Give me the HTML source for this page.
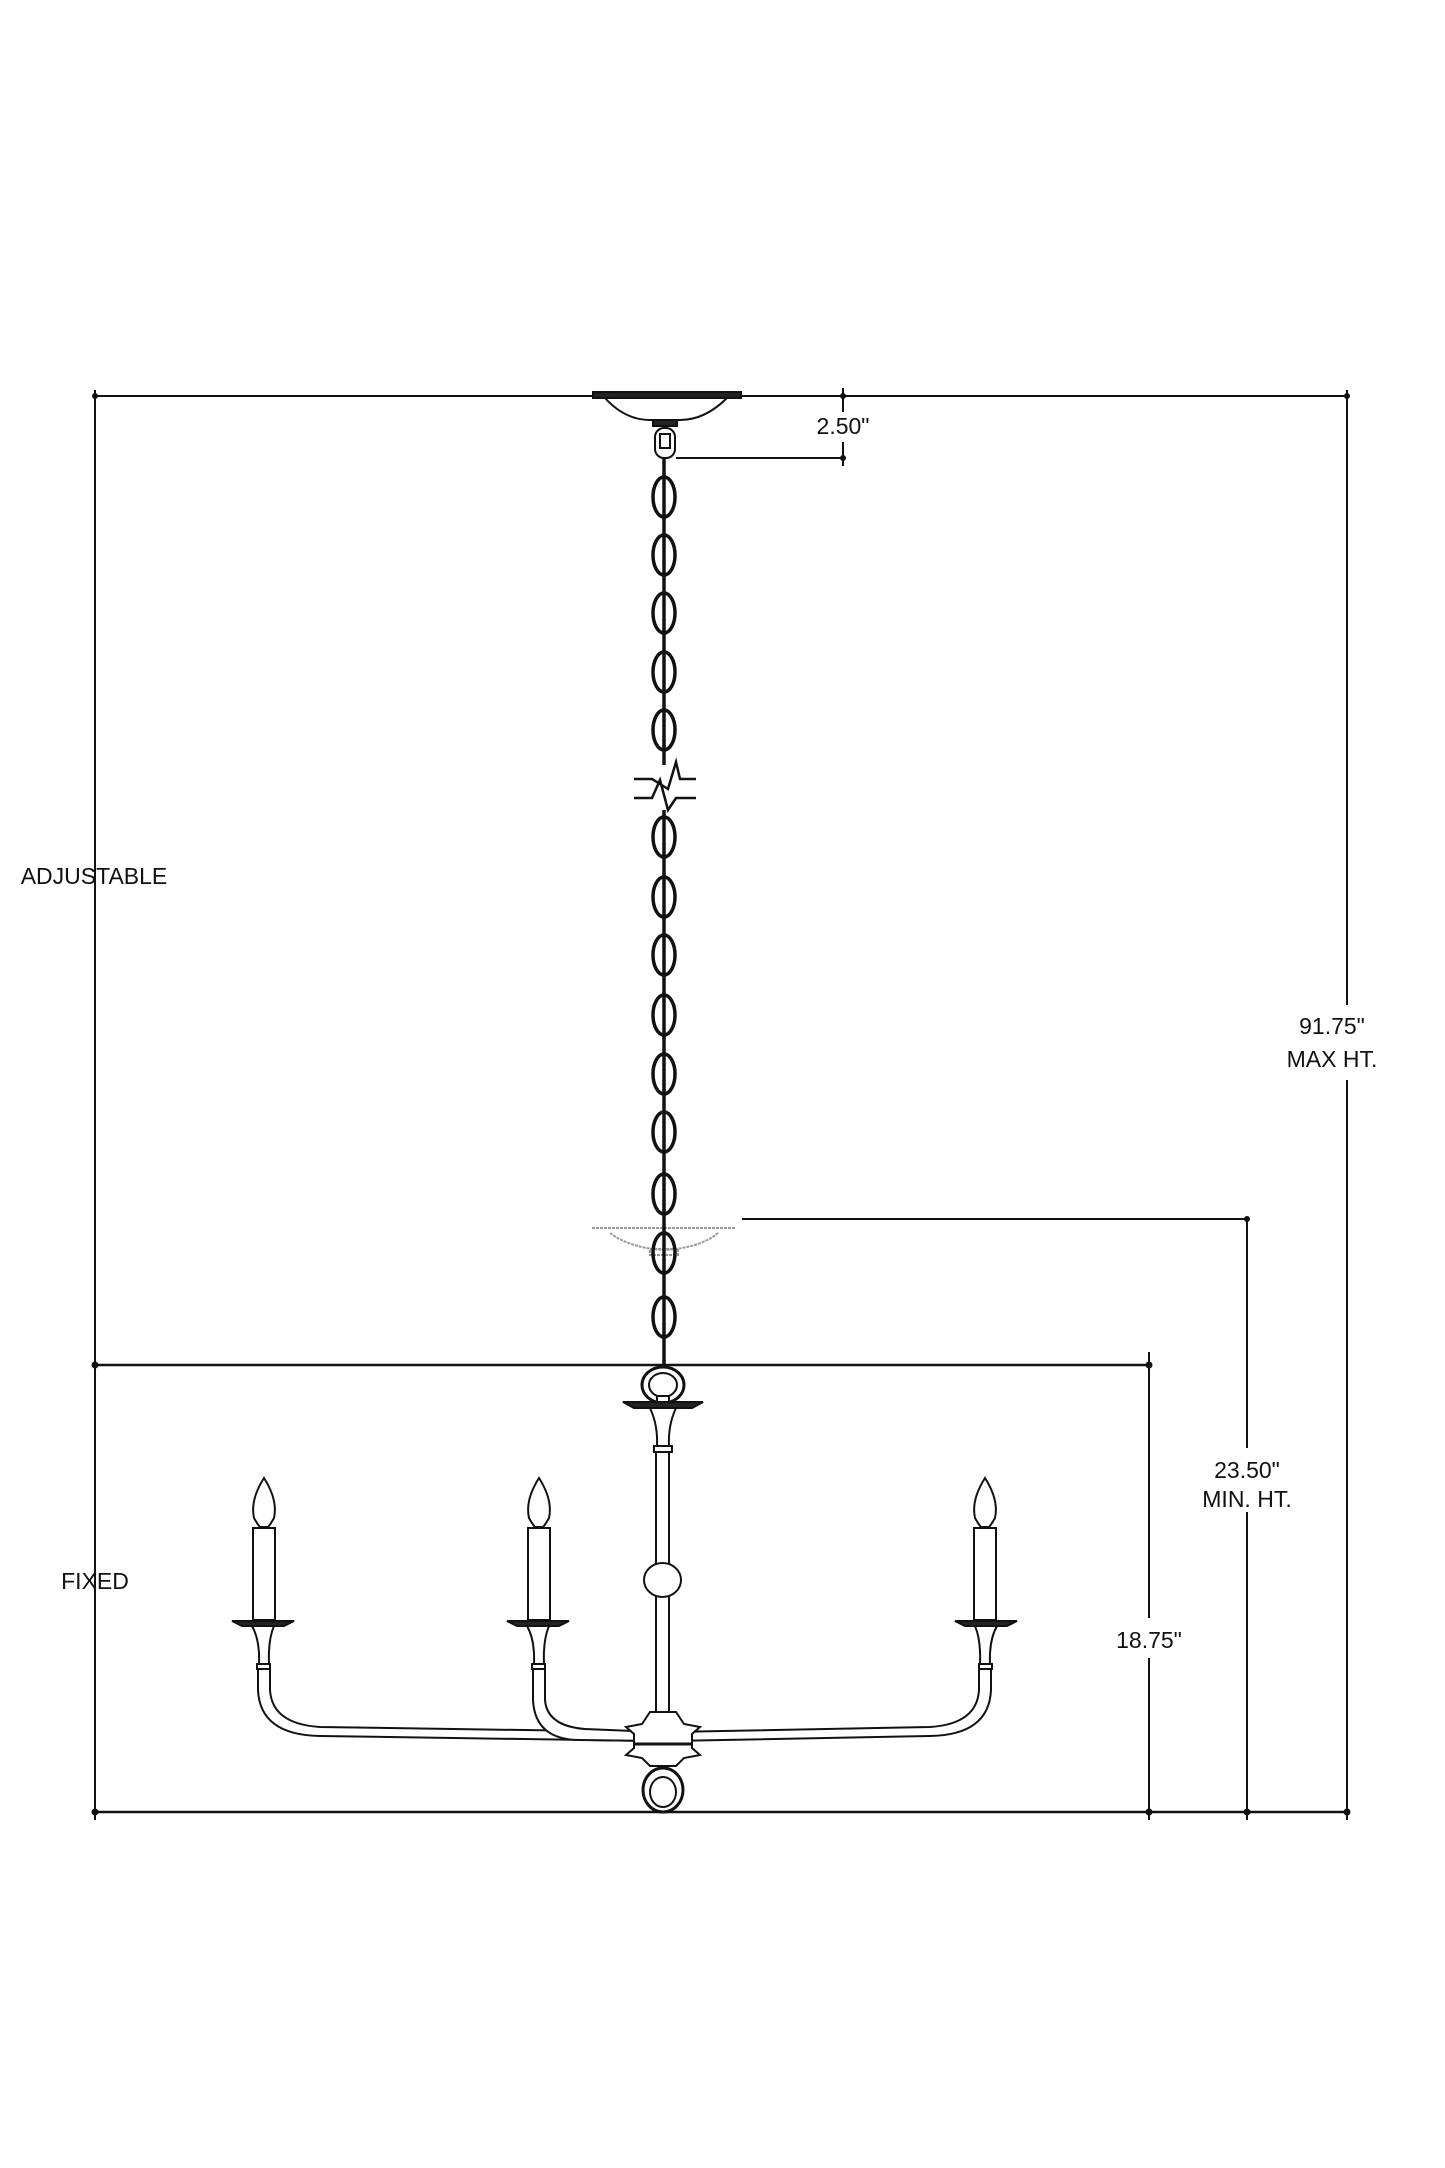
<!DOCTYPE html>
<html><head><meta charset="utf-8"><style>
html,body{margin:0;padding:0;background:#fff;}
svg{display:block}
text{font-family:"Liberation Sans",sans-serif;font-size:23px;fill:#111;}
</style></head><body>
<svg width="1445" height="2168" viewBox="0 0 1445 2168" xmlns="http://www.w3.org/2000/svg">
<g stroke="#111" fill="none" stroke-width="2">
<line x1="95" y1="396" x2="593" y2="396"/>
<line x1="741" y1="396" x2="1347" y2="396"/>
<line x1="95" y1="390" x2="95" y2="1820"/>
<line x1="1347" y1="390" x2="1347" y2="1005"/>
<line x1="1347" y1="1080" x2="1347" y2="1820"/>
<line x1="843" y1="388" x2="843" y2="412"/>
<line x1="843" y1="442" x2="843" y2="466"/>
<line x1="676" y1="458" x2="843" y2="458"/>
<line x1="95" y1="1365" x2="1149" y2="1365" stroke-width="2.5"/>
<line x1="95" y1="1812" x2="1347" y2="1812" stroke-width="2.5"/>
<line x1="1149" y1="1352" x2="1149" y2="1618"/>
<line x1="1149" y1="1658" x2="1149" y2="1820"/>
<line x1="742" y1="1219" x2="1247" y2="1219"/>
<line x1="1247" y1="1219" x2="1247" y2="1448"/>
<line x1="1247" y1="1512" x2="1247" y2="1820"/>
</g>
<g fill="#111">
<circle cx="95" cy="396" r="3"/><circle cx="843" cy="396" r="3"/><circle cx="1347" cy="396" r="3"/>
<circle cx="843" cy="458" r="3"/>
<circle cx="95" cy="1365" r="3.5"/><circle cx="1149" cy="1365" r="3.5"/>
<circle cx="1247" cy="1219" r="3"/>
<circle cx="95" cy="1812" r="3.5"/><circle cx="1149" cy="1812" r="3.5"/><circle cx="1247" cy="1812" r="3.5"/><circle cx="1347" cy="1812" r="3.5"/>
</g>
<g stroke="#111" fill="#fff" stroke-width="2">
<rect x="593" y="392" width="148" height="6" fill="#222"/>
<path d="M605 398 Q625 420 650 420 L680 420 Q705 420 727 398 Z"/>
<rect x="653" y="420" width="24" height="6" fill="#222"/>
<rect x="655" y="428" width="20" height="30" rx="9"/>
<rect x="660" y="434" width="10" height="14"/>
</g>
<g stroke="#999" fill="none" stroke-width="2" stroke-dasharray="3 1">
<line x1="592" y1="1228" x2="735" y2="1228"/>
<path d="M610 1233 Q630 1248 664 1250 Q700 1248 718 1233"/>
<rect x="650" y="1249" width="28" height="6"/>
</g>
<g stroke="#111" fill="none" stroke-width="3.5">
<line x1="664" y1="458" x2="664" y2="765"/>
<line x1="664" y1="810" x2="664" y2="1367"/>
<ellipse cx="664" cy="497" rx="11" ry="20"/>
<ellipse cx="664" cy="555" rx="11" ry="20"/>
<ellipse cx="664" cy="613" rx="11" ry="20"/>
<ellipse cx="664" cy="672" rx="11" ry="20"/>
<ellipse cx="664" cy="730" rx="11" ry="20"/>
<ellipse cx="664" cy="837" rx="11" ry="20"/>
<ellipse cx="664" cy="897" rx="11" ry="20"/>
<ellipse cx="664" cy="955" rx="11" ry="20"/>
<ellipse cx="664" cy="1015" rx="11" ry="20"/>
<ellipse cx="664" cy="1074" rx="11" ry="20"/>
<ellipse cx="664" cy="1132" rx="11" ry="20"/>
<ellipse cx="664" cy="1194" rx="11" ry="20"/>
<ellipse cx="664" cy="1253" rx="11" ry="20"/>
<ellipse cx="664" cy="1317" rx="11" ry="20"/>
</g>
<g stroke="#111" fill="none" stroke-width="2.5">
<path d="M634 779 L652 779 L668 789 L676 762 L680 779 L696 779"/>
<path d="M634 798 L652 798 L660 780 L668 810 L676 798 L696 798"/>
</g>
<g stroke="#111" fill="#fff" stroke-width="2">
<ellipse cx="663" cy="1385" rx="21" ry="18" stroke-width="3"/>
<ellipse cx="663" cy="1385" rx="14" ry="12"/>
<rect x="657" y="1396" width="12" height="6"/>
<path d="M623 1402 L703 1402 L692 1408 L634 1408 Z" fill="#222"/>
<path d="M650 1408 L676 1408 Q668 1425 669 1446 L657 1446 Q658 1425 650 1408 Z"/>
<rect x="654" y="1446" width="18" height="6"/>
<line x1="656" y1="1452" x2="656" y2="1712"/>
<line x1="669" y1="1452" x2="669" y2="1712"/>
<ellipse cx="662.5" cy="1580" rx="18.5" ry="17"/>
<path d="M258 1668 L258 1690 Q260 1735 320 1736 L655 1741 M270 1668 L270 1690 Q272 1724 320 1727 L655 1732"/>
<path d="M533 1668 L533 1700 Q535 1740 580 1740 L655 1741 M545 1668 L545 1700 Q547 1726 585 1729 L655 1732"/>
<path d="M991 1668 L991 1690 Q989 1735 930 1736 L670 1741 M979 1668 L979 1690 Q977 1724 930 1727 L670 1732"/>
<path d="M650 1712 L676 1712 L684 1724 L700 1727 L692 1734 L692 1748 L700 1755 L684 1758 L676 1766 L650 1766 L642 1758 L626 1755 L634 1748 L634 1734 L626 1727 L642 1724 Z"/>
<line x1="634" y1="1744" x2="692" y2="1744" stroke-width="3"/>
<ellipse cx="663" cy="1790" rx="20" ry="22" stroke-width="3"/>
<ellipse cx="663" cy="1792" rx="13" ry="15"/>
</g>
<g stroke="#111" fill="#fff" stroke-width="2">
<g transform="translate(264,0)">
<path d="M0 1478 Q-14 1500 -10 1518 Q-6 1525 -4 1527 L4 1527 Q6 1525 10 1518 Q14 1500 0 1478 Z"/>
<rect x="-11" y="1528" width="22" height="92"/>
<path d="M-32 1621 L30 1621 L20 1626 L-22 1626 Z" fill="#222"/>
<path d="M-12 1626 L10 1626 Q4 1640 5 1664 L-5 1664 Q-4 1640 -12 1626 Z"/>
<rect x="-7" y="1664" width="13" height="5"/>
</g>
<g transform="translate(539,0)">
<path d="M0 1478 Q-14 1500 -10 1518 Q-6 1525 -4 1527 L4 1527 Q6 1525 10 1518 Q14 1500 0 1478 Z"/>
<rect x="-11" y="1528" width="22" height="92"/>
<path d="M-32 1621 L30 1621 L20 1626 L-22 1626 Z" fill="#222"/>
<path d="M-12 1626 L10 1626 Q4 1640 5 1664 L-5 1664 Q-4 1640 -12 1626 Z"/>
<rect x="-7" y="1664" width="13" height="5"/>
</g>
<g transform="translate(985,0)">
<path d="M0 1478 Q-14 1500 -10 1518 Q-6 1525 -4 1527 L4 1527 Q6 1525 10 1518 Q14 1500 0 1478 Z"/>
<rect x="-11" y="1528" width="22" height="92"/>
<path d="M-30 1621 L32 1621 L22 1626 L-20 1626 Z" fill="#222"/>
<path d="M-10 1626 L12 1626 Q4 1640 5 1664 L-5 1664 Q-4 1640 -10 1626 Z"/>
<rect x="-6" y="1664" width="13" height="5"/>
</g>
</g>
<text x="843" y="434" text-anchor="middle">2.50"</text>
<text x="94" y="884" text-anchor="middle">ADJUSTABLE</text>
<text x="1332" y="1034" text-anchor="middle">91.75"</text>
<text x="1332" y="1067" text-anchor="middle">MAX HT.</text>
<text x="1247" y="1478" text-anchor="middle">23.50"</text>
<text x="1247" y="1507" text-anchor="middle">MIN. HT.</text>
<text x="95" y="1589" text-anchor="middle">FIXED</text>
<text x="1149" y="1648" text-anchor="middle">18.75"</text>
</svg>
</body></html>
